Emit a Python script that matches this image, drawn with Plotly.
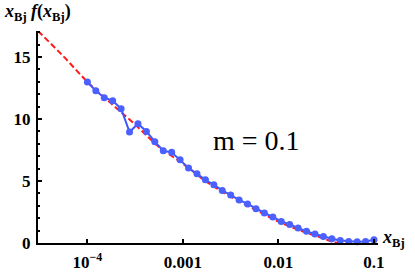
import numpy as np
import plotly.graph_objects as go

# Blue data points (x_Bj, x f(x))
x_blue = list(10 ** np.linspace(-4, -1, 35))
y_blue = [12.98, 12.28, 11.72, 11.48, 10.83, 8.95, 9.62, 9.00, 8.17, 7.44,
          7.31, 6.72, 6.05, 5.59, 5.10, 4.70, 4.24, 3.87, 3.47, 3.15,
          2.77, 2.42, 2.10, 1.74, 1.50, 1.21, 0.94, 0.73, 0.53, 0.35,
          0.21, 0.13, 0.10, 0.13, 0.27]

# Red dashed reference curve, read at log10(x) positions
logx_red = [-4.517, -4.25, -4.0, -3.75, -3.5, -3.25, -3.0, -2.75, -2.5,
            -2.25, -2.0, -1.75, -1.6, -1.5, -1.42, -1.36]
y_red = [17.1, 15.05, 13.0, 11.25, 9.55, 7.75, 6.4, 4.92, 3.75,
         2.72, 1.72, 0.95, 0.55, 0.28, 0.08, 0.0]
x_red = [10 ** v for v in logx_red]

x_tickvals = [1e-4, 1e-3, 1e-2, 1e-1]
x_ticktext = ["<b>10<sup>\u22124</sup></b>", "<b>0.001</b>", "<b>0.01</b>", "<b>0.1</b>"]
y_tickvals = [0, 5, 10, 15]
y_ticktext = ["<b>0</b>", "<b>5</b>", "<b>10</b>", "<b>15</b>"]

SERIF = "Liberation Serif"

fig = go.Figure()
fig.add_trace(go.Scatter(
    x=x_red, y=y_red, mode="lines",
    line=dict(color="#ff1a1a", width=2, dash="6px,3px"),
    line_shape="spline", showlegend=False))
fig.add_trace(go.Scatter(
    x=x_blue, y=y_blue, mode="lines+markers",
    line=dict(color="#3d55ff", width=2),
    marker=dict(color="#4a60ff", size=7),
    cliponaxis=False, showlegend=False))

fig.update_layout(
    width=415, height=272,
    margin=dict(l=38, r=37, t=31, b=29, autoexpand=False),
    paper_bgcolor="white", plot_bgcolor="white",
    xaxis=dict(
        type="log", range=[-4.517, -0.958], automargin=False,
        showgrid=False, zeroline=False,
        showline=True, linecolor="black", linewidth=2,
        ticks="inside", ticklen=4, tickwidth=2, tickcolor="black",
        tickvals=x_tickvals, ticktext=x_ticktext,
        tickfont=dict(family=SERIF, size=17, color="black"),
        ticklabelstandoff=3,
    ),
    yaxis=dict(
        range=[0, 17.1], automargin=False,
        showgrid=False, zeroline=False,
        showline=True, linecolor="black", linewidth=2,
        ticks="inside", ticklen=4, tickwidth=2, tickcolor="black",
        tickvals=y_tickvals, ticktext=y_ticktext,
        tickfont=dict(family=SERIF, size=17, color="black"),
        minor=dict(ticks="inside", ticklen=2, tickwidth=1.5,
                   tickcolor="black", dtick=1, showgrid=False),
        ticklabelstandoff=2,
    ),
)

fig.add_annotation(
    xref="paper", yref="paper", x=-0.106, y=1.085,
    xanchor="left", yanchor="middle", showarrow=False,
    text="<b><i>x</i><sub>Bj</sub> <i>f</i>(<i>x</i><sub>Bj</sub>)</b>",
    font=dict(family=SERIF, size=18, color="black"))
fig.add_annotation(
    xref="paper", yref="paper", x=1.005, y=0.02,
    xanchor="left", yanchor="middle", showarrow=False,
    text="<b><i>x</i><sub>Bj</sub></b>",
    font=dict(family=SERIF, size=18, color="black"))
fig.add_annotation(
    xref="paper", yref="paper", x=0.644, y=0.482,
    xanchor="center", yanchor="middle", showarrow=False,
    text="m = 0.1",
    font=dict(family=SERIF, size=28, color="black"))

fig.write_html(
    "out.html",
    config={"displayModeBar": False},
    post_script="document.body.style.margin='0';document.body.style.overflow='hidden';",
)
